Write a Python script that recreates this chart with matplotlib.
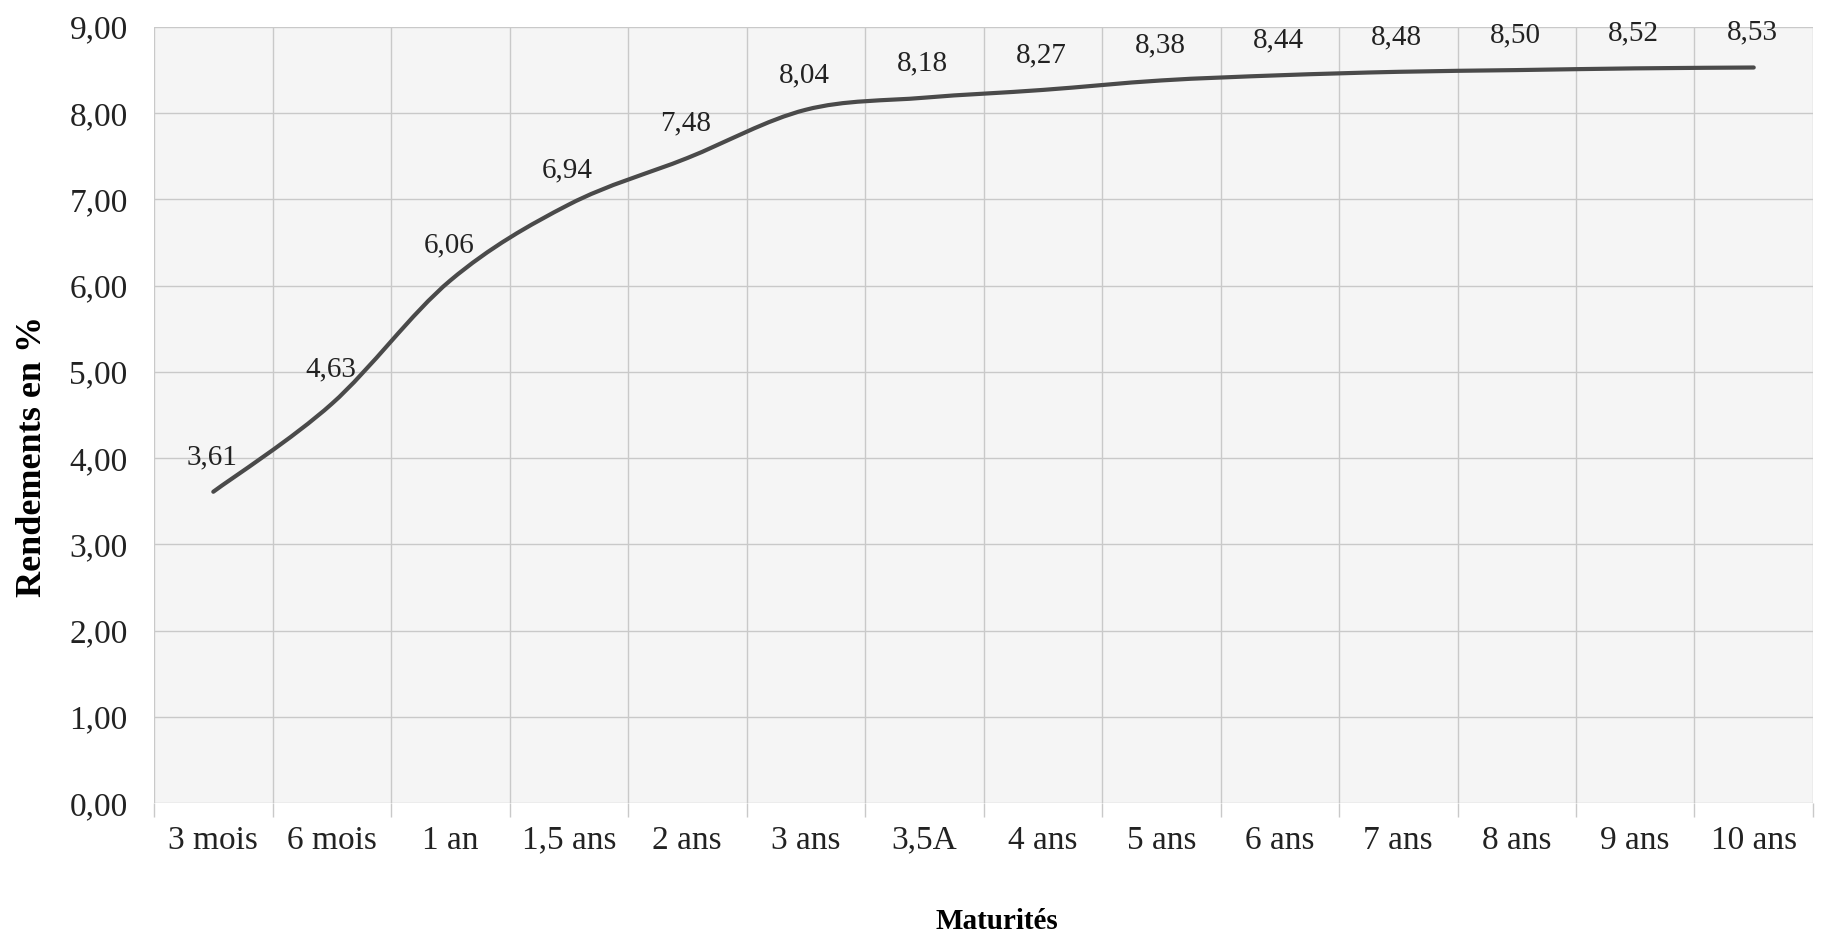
import matplotlib
matplotlib.use('Agg')
import matplotlib.pyplot as plt
from matplotlib.path import Path
from matplotlib.patches import PathPatch, Rectangle
import numpy as np

plt.rcParams['font.family'] = ['Liberation Serif', 'DejaVu Serif']
plt.rcParams['hatch.linewidth'] = 0.8
plt.rcParams['hatch.color'] = '#d9d9d9'

# maturities and yields (%)
maturites = ['3 mois', '6 mois', '1 an', '1,5 ans', '2 ans', '3 ans', '3,5A',
             '4 ans', '5 ans', '6 ans', '7 ans', '8 ans', '9 ans', '10 ans']
rendements = [3.61, 4.63, 6.06, 6.94, 7.48, 8.04, 8.18,
              8.27, 8.38, 8.44, 8.48, 8.50, 8.52, 8.53]
y_ticks = [0, 1, 2, 3, 4, 5, 6, 7, 8, 9]


def fr(v):
    return ('%.2f' % v).replace('.', ',')


def smooth_path(x, y):
    # catmull-rom style bezier, like the excel "smoothed line" option
    verts = [(x[0], y[0])]
    codes = [Path.MOVETO]
    n = len(x)
    for i in range(n - 1):
        x0, y0 = (x[i - 1], y[i - 1]) if i > 0 else (x[i], y[i])
        x1, y1 = x[i], y[i]
        x2, y2 = x[i + 1], y[i + 1]
        x3, y3 = (x[i + 2], y[i + 2]) if i + 2 < n else (x2, y2)
        c1 = (x1 + (x2 - x0) / 6.0, y1 + (y2 - y0) / 6.0)
        c2 = (x2 - (x3 - x1) / 6.0, y2 - (y3 - y1) / 6.0)
        verts += [c1, c2, (x2, y2)]
        codes += [Path.CURVE4] * 3
    return Path(verts, codes)


fig = plt.figure(figsize=(18.21, 9.40), dpi=100)
ax = fig.add_axes([0.0846, 0.1457, 0.9110, 0.8256])

xs = np.arange(len(maturites))
ax.set_xlim(-0.5, len(maturites) - 0.5)
ax.set_ylim(0, 9)

# hatched plot area
ax.add_patch(Rectangle((0, 0), 1, 1, transform=ax.transAxes, facecolor='#f5f5f5',
                       edgecolor='none', hatch='\\' * 16, zorder=0))

for v in y_ticks:
    ax.axhline(v, color='#c9c9c9', lw=1.0, zorder=1)
for b in np.arange(len(maturites) + 1) - 0.5:
    ax.axvline(b, color='#c9c9c9', lw=1.0, zorder=1)

ax.add_patch(PathPatch(smooth_path(xs, rendements), facecolor='none',
                       edgecolor='#4a4a4a', lw=3.0, capstyle='round', zorder=3))

for xi, yi in zip(xs, rendements):
    ax.annotate(fr(yi), (xi, yi), xytext=(-1, 25), textcoords='offset points',
                ha='center', va='center', fontsize=21, color='#222222')

ax.set_yticks(y_ticks)
ax.set_yticklabels([fr(v) for v in y_ticks], fontsize=24, color='#222222')
ax.set_xticks(xs)
ax.set_xticklabels(maturites, fontsize=24, color='#222222')
ax.set_xticks(np.arange(len(maturites) + 1) - 0.5, minor=True)
ax.tick_params(axis='x', which='major', length=0, pad=16)
ax.tick_params(axis='x', which='minor', length=10, color='#c9c9c9', width=1)
ax.tick_params(axis='y', length=0, pad=19)

for s in ax.spines.values():
    s.set_visible(False)

fig.text(0.0176, 0.514, 'Rendements en %', rotation=90, ha='center', va='center',
         fontsize=26, fontweight='bold')
fig.text(0.5475, 0.0117, 'Maturités', ha='center', va='baseline', fontsize=21,
         fontweight='bold')

fig.savefig('out.png', dpi=100)
